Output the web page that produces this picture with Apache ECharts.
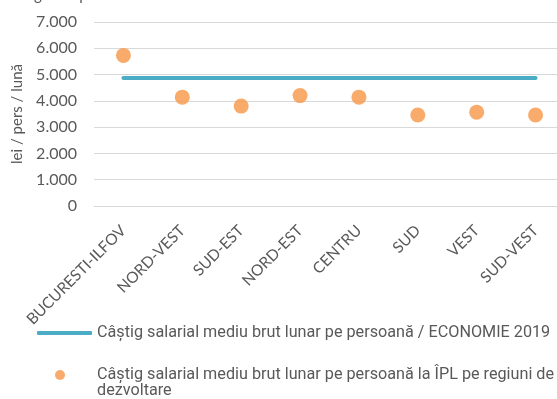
<!DOCTYPE html>
<html>
<head>
<meta charset="utf-8">
<script src="https://cdn.jsdelivr.net/npm/echarts@6/dist/echarts.min.js"></script>
<style>
  html, body { margin: 0; padding: 0; background: #fff; }
  #chart { width: 557px; height: 399px; }
</style>
</head>
<body>
<div id="chart"></div>
<script>
// Development regions and average gross monthly earnings (lei / person / month)
const regions = ['BUCURESTI-ILFOV', 'NORD-VEST', 'SUD-EST', 'NORD-EST', 'CENTRU', 'SUD', 'VEST', 'SUD-VEST'];
const regionEarnings = [5730, 4140, 3800, 4200, 4140, 3460, 3570, 3460];
const economyAverage = 4870;
const yTicks = [0, 1000, 2000, 3000, 4000, 5000, 6000, 7000];

const lineName = 'Câștig salarial mediu brut lunar pe persoană / ECONOMIE 2019';
const dotName = 'Câștig salarial mediu brut lunar pe persoană la ÎPL pe regiuni de\ndezvoltare';
const titleText = 'înregistrat pe economie în anul 2019';

const grey = '#595959';
const axisFont = 'Lato, "Open Sans", sans-serif';
const legendFont = 'Roboto, "Noto Sans", sans-serif';

const fmtThousands = v => String(v).replace(/\B(?=(\d{3})+(?!\d))/g, '.');

const chart = echarts.init(document.getElementById('chart'), null, { renderer: 'canvas' });

chart.setOption({
  animation: false,
  backgroundColor: '#fff',
  title: {
    text: titleText,
    left: 9,
    top: -12,
    padding: 0,
    textStyle: { color: grey, fontSize: 15, fontWeight: 'normal', fontFamily: axisFont }
  },
  grid: {
    left: 94,
    top: 22,
    width: 471,
    height: 184,
    outerBoundsMode: 'none',
    containLabel: false
  },
  xAxis: {
    type: 'category',
    data: regions,
    boundaryGap: true,
    axisLine: { show: true, lineStyle: { color: '#d9d9d9', width: 1 } },
    axisTick: { show: false },
    axisLabel: {
      show: true,
      interval: 0,
      rotate: 45,
      margin: 22,
      color: grey,
      fontSize: 15.5,
      fontFamily: axisFont
    }
  },
  yAxis: {
    type: 'value',
    min: yTicks[0],
    max: yTicks[yTicks.length - 1],
    interval: 1000,
    name: 'lei / pers / lună',
    nameLocation: 'middle',
    nameGap: 69,
    nameRotate: 90,
    nameTextStyle: { color: grey, fontSize: 15, fontFamily: axisFont },
    axisLine: { show: false },
    axisTick: { show: false },
    axisLabel: {
      color: grey,
      fontSize: 16,
      margin: 17,
      fontFamily: axisFont,
      formatter: v => fmtThousands(v)
    },
    splitLine: { show: true, lineStyle: { color: '#d9d9d9', width: 1 } }
  },
  legend: [
    {
      data: [{ name: lineName, icon: 'roundRect' }],
      left: 37,
      top: 325,
      itemWidth: 55,
      itemHeight: 4,
      padding: 0,
      selectedMode: false,
      textStyle: {
        color: grey, fontSize: 16.2, fontFamily: legendFont,
        lineHeight: 16
      }
    },
    {
      // a leading blank line keeps the marker level with the first text line
      data: [{ name: dotName, icon: 'circle' }],
      formatter: name => '\n' + name,
      left: 55,
      top: 351,
      itemWidth: 10,
      itemHeight: 10,
      padding: 0,
      selectedMode: false,
      textStyle: {
        color: grey, fontSize: 16.2, fontFamily: legendFont,
        lineHeight: 16,
        padding: [0, 0, 0, 27]
      }
    }
  ],
  series: [
    {
      name: lineName,
      type: 'line',
      data: regions.map(() => economyAverage),
      showSymbol: false,
      symbol: 'none',
      lineStyle: { color: '#4BACC6', width: 4, cap: 'round' },
      itemStyle: { color: '#4BACC6' },
      z: 2
    },
    {
      name: dotName,
      type: 'scatter',
      data: regionEarnings,
      symbol: 'circle',
      symbolSize: 15,
      itemStyle: { color: '#F79646' },
      z: 3
    }
  ]
});
</script>
</body>
</html>
